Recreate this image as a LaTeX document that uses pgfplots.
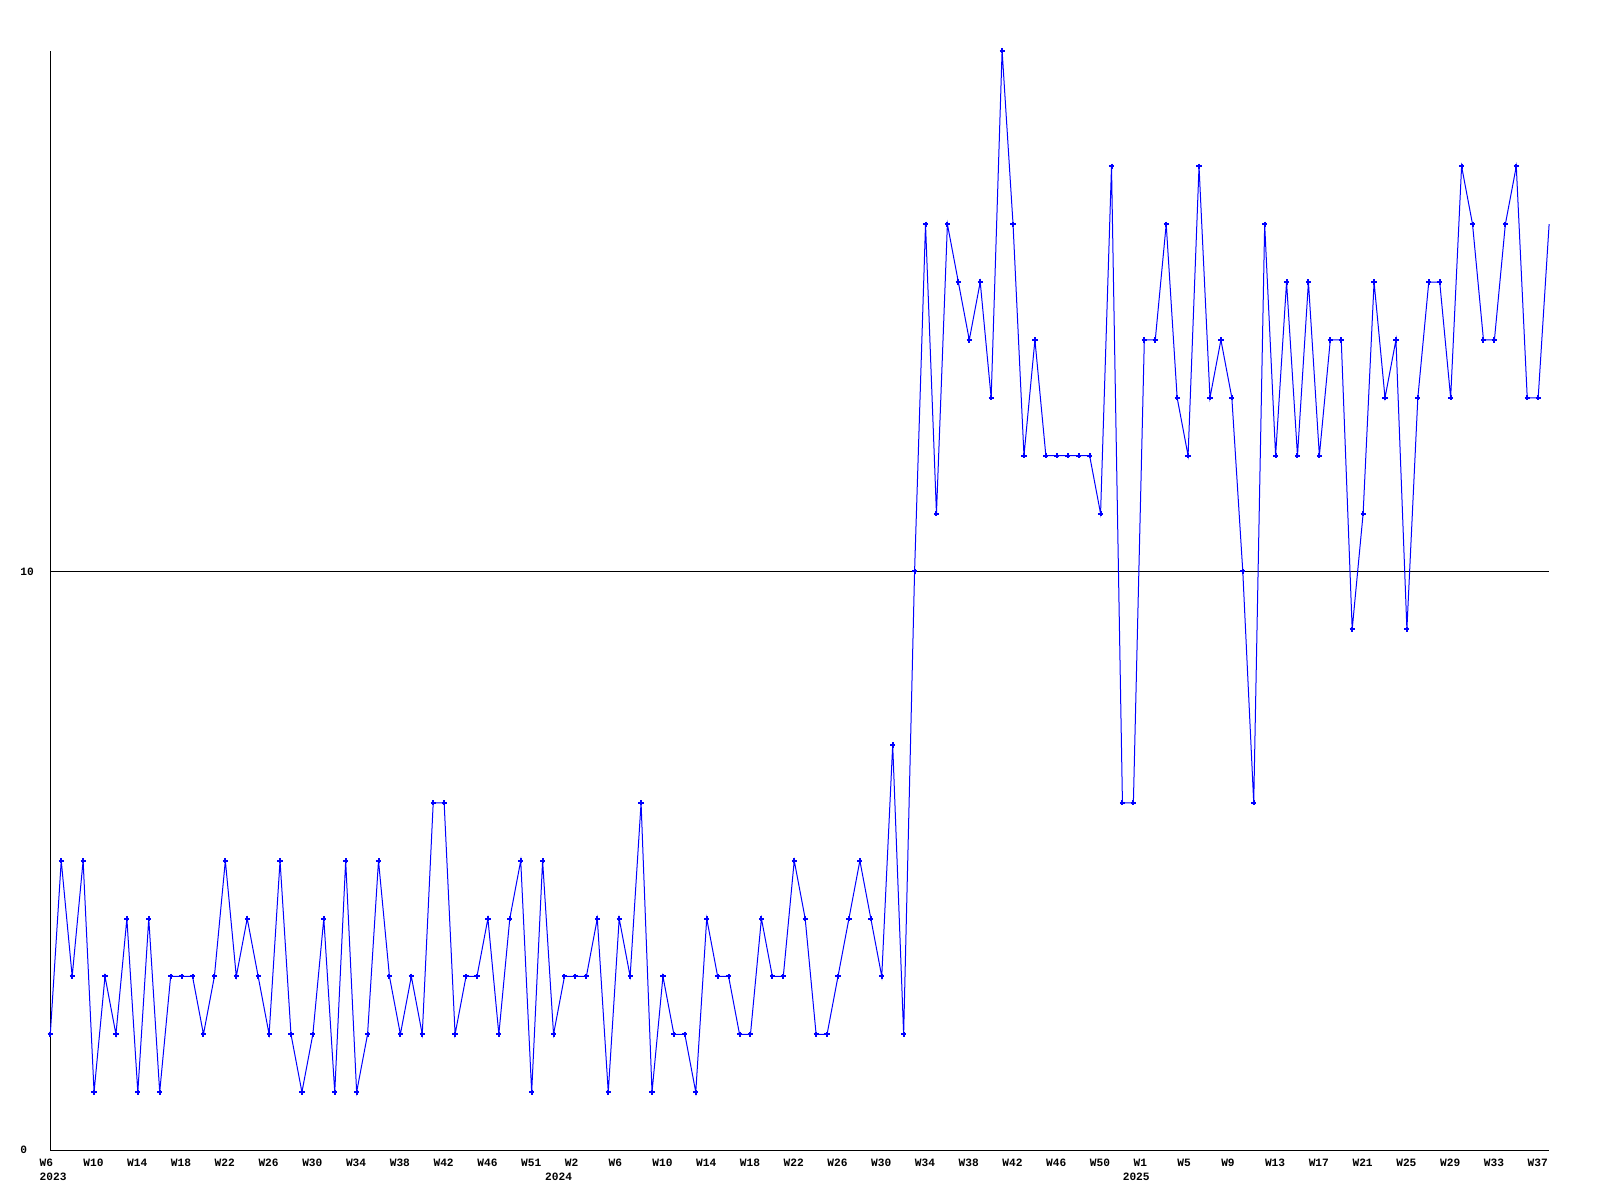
\documentclass[border=0pt]{standalone}
\usepackage{pgfplots}
\pgfplotsset{compat=1.18}
\usepackage{pgfplotstable}
\usepackage{fontspec}
\newfontfamily\chartfont{Liberation Mono}
\pgfplotstableread{
x y
0 2
1 5
2 3
3 5
4 1
5 3
6 2
7 4
8 1
9 4
10 1
11 3
12 3
13 3
14 2
15 3
16 5
17 3
18 4
19 3
20 2
21 5
22 2
23 1
24 2
25 4
26 1
27 5
28 1
29 2
30 5
31 3
32 2
33 3
34 2
35 6
36 6
37 2
38 3
39 3
40 4
41 2
42 4
43 5
44 1
45 5
46 2
47 3
48 3
49 3
50 4
51 1
52 4
53 3
54 6
55 1
56 3
57 2
58 2
59 1
60 4
61 3
62 3
63 2
64 2
65 4
66 3
67 3
68 5
69 4
70 2
71 2
72 3
73 4
74 5
75 4
76 3
77 7
78 2
79 10
80 16
81 11
82 16
83 15
84 14
85 15
86 13
87 19
88 16
89 12
90 14
91 12
92 12
93 12
94 12
95 12
96 11
97 17
98 6
99 6
100 14
101 14
102 16
103 13
104 12
105 17
106 13
107 14
108 13
109 10
110 6
111 16
112 12
113 15
114 12
115 15
116 12
117 14
118 14
119 9
120 11
121 15
122 13
123 14
124 9
125 13
126 15
127 15
128 13
129 17
130 16
131 14
132 14
133 16
134 17
135 13
136 13
137 16
}\datatable
\begin{document}
\begin{tikzpicture}
\useasboundingbox (0,0) rectangle (800pt,600pt);
\begin{axis}[
  at={(25.15pt,25pt)}, anchor=south west,
  scale only axis,
  width=749.4pt, height=549.7pt,
  xmin=0, xmax=137, ymin=0, ymax=19,
  axis x line*=bottom, axis y line*=left,
  axis line style={line width=0.5pt, black, -},
  major tick length=0pt,
  ytick={0,10}, yticklabels={0,10},
  ymajorgrids, major grid style={black, line width=0.5pt},
  xtick={0,4,...,136},
  xticklabels={W6,W10,W14,W18,W22,W26,W30,W34,W38,W42,W46,W51,W2,W6,W10,W14,W18,W22,W26,W30,W34,W38,W42,W46,W50,W1,W5,W9,W13,W17,W21,W25,W29,W33,W37},
  xticklabel style={anchor=west, inner sep=0pt, text height=3.7pt, text depth=0pt, xshift=-5.5pt, yshift=-6.15pt, font=\chartfont\bfseries\fontsize{5.6}{6}\selectfont},
  yticklabel style={anchor=west, inner sep=0pt, text height=3.7pt, text depth=0pt, xshift=-15.15pt, font=\chartfont\bfseries\fontsize{5.6}{6}\selectfont},
  clip=false,
]
\addplot[blue, line width=0.5pt, no marks] table[x=x,y=y] {\datatable};
\addplot[blue, only marks, mark=+, mark size=1.3pt, mark options={line width=1pt}, restrict x to domain=0:136] table[x=x,y=y] {\datatable};
\node[anchor=west, inner sep=0pt, text height=3.7pt, text depth=0pt, xshift=-5.5pt, yshift=-13.35pt, font=\chartfont\bfseries\fontsize{5.6}{6}\selectfont] at (axis cs:0,0) {2023};
\node[anchor=west, inner sep=0pt, text height=3.7pt, text depth=0pt, xshift=-5.5pt, yshift=-13.35pt, font=\chartfont\bfseries\fontsize{5.6}{6}\selectfont] at (axis cs:46.2,0) {2024};
\node[anchor=west, inner sep=0pt, text height=3.7pt, text depth=0pt, xshift=-5.5pt, yshift=-13.35pt, font=\chartfont\bfseries\fontsize{5.6}{6}\selectfont] at (axis cs:99,0) {2025};
\end{axis}
\end{tikzpicture}
\end{document}
